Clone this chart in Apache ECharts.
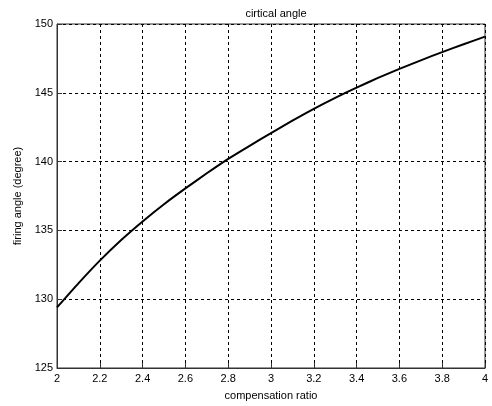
<!DOCTYPE html>
<html>
<head>
<meta charset="utf-8">
<script src="https://cdn.jsdelivr.net/npm/echarts@6/dist/echarts.min.js"></script>
<style>
  html, body { margin: 0; padding: 0; background: #fff; }
  #chart { width: 492px; height: 406px; }
</style>
</head>
<body>
<div id="chart"></div>
<script>
// Compensation ratio vs. critical firing angle
const ratio = [2.0, 2.1, 2.2, 2.3, 2.4, 2.5, 2.6, 2.7, 2.8, 2.9, 3.0,
               3.1, 3.2, 3.3, 3.4, 3.5, 3.6, 3.7, 3.8, 3.9, 4.0];
const firingAngle = [129.4, 131.15, 132.8, 134.3, 135.65, 136.9, 138.05, 139.15, 140.2, 141.15, 142.07,
                     142.97, 143.83, 144.63, 145.38, 146.08, 146.74, 147.36, 147.96, 148.53, 149.08];

const xTicks = [2, 2.2, 2.4, 2.6, 2.8, 3, 3.2, 3.4, 3.6, 3.8, 4];
const yTicks = [125, 130, 135, 140, 145, 150];

const FONT = '"Liberation Sans", Arial, sans-serif';
const gridLine = { show: true, lineStyle: { color: '#000', type: [3, 3], width: 1 } };

const chart = echarts.init(document.getElementById('chart'), null, { renderer: 'canvas' });
chart.setOption({
  animation: false,
  backgroundColor: '#fff',
  title: {
    text: 'cirtical angle',
    left: 271, top: 3, textAlign: 'center',
    textStyle: { fontFamily: FONT, fontSize: 11, fontWeight: 'normal', color: '#000' }
  },
  grid: {
    left: 57, right: 7, top: 24, bottom: 38,
    show: true, borderColor: '#333', borderWidth: 1, backgroundColor: '#fff'
  },
  xAxis: {
    type: 'value', min: 2, max: 4, interval: 0.2,
    name: 'compensation ratio', nameLocation: 'middle', nameGap: 22,
    nameTextStyle: { fontFamily: FONT, fontSize: 11, color: '#000' },
    axisLine: { show: true, lineStyle: { color: '#333' } },
    axisTick: { show: true, inside: true, length: 5, lineStyle: { color: '#333' } },
    axisLabel: {
      fontFamily: FONT, fontSize: 11, color: '#000', margin: 5,
      formatter: v => xTicks.find(t => Math.abs(t - v) < 1e-6) !== undefined ? String(+v.toFixed(1)) : ''
    },
    splitLine: gridLine
  },
  yAxis: {
    type: 'value', min: 125, max: 150, interval: 5,
    name: 'firing angle (degree)', nameLocation: 'middle', nameGap: 32, nameRotate: 90,
    nameTextStyle: { fontFamily: FONT, fontSize: 11, color: '#000' },
    axisLine: { show: true, lineStyle: { color: '#333' } },
    axisTick: { show: true, inside: true, length: 5, lineStyle: { color: '#333' } },
    axisLabel: {
      fontFamily: FONT, fontSize: 11, color: '#000', margin: 4,
      formatter: v => yTicks.includes(v) ? String(v) : ''
    },
    splitLine: gridLine
  },
  series: [{
    type: 'line',
    data: ratio.map((r, i) => [r, firingAngle[i]]),
    smooth: 0.2,
    symbol: 'none',
    lineStyle: { color: '#000', width: 2 },
    z: 5
  }]
});
</script>
</body>
</html>
